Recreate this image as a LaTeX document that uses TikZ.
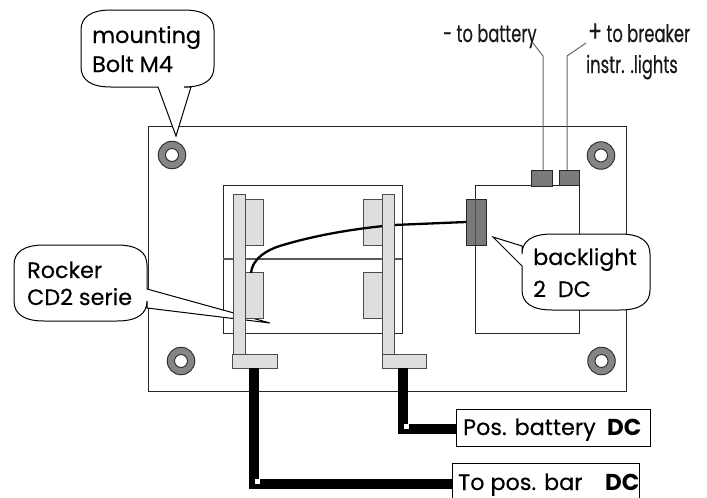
\documentclass[tikz,border=0pt]{standalone}
\usepackage{fontspec}
\setmainfont{Poppins}
\newfontfamily\fut{Poppins}[FakeBold=0.35]
\newfontfamily\futc{Poppins}[FakeStretch=0.68,FakeBold=0.35]
\newcommand\bubble[7]{%
  \filldraw[bubblestyle] (#1+30,#2) -- (#3-30,#2)
   .. controls (#3-10,#2) and (#3,#2+7) .. (#3,#2+20) #5
   -- (#3,#4-20) .. controls (#3,#4-7) and (#3-10,#4) .. (#3-30,#4) #6
   -- (#1+30,#4) .. controls (#1+10,#4) and (#1,#4-7) .. (#1,#4-20) #7
   -- (#1,#2+20) .. controls (#1,#2+7) and (#1+10,#2) .. (#1+30,#2) -- cycle;}
\tikzset{
  x=1pt,y=-1pt,
  bubblestyle/.style={draw=black,fill=white,line width=1pt,line join=miter},
  plate/.style={draw=black!85,line width=1pt,fill=none},
  part/.style={draw=black!70,fill=black!13,line width=1pt,rectangle,inner sep=0pt,outer sep=0pt},
  term/.style={draw=black!85,fill=black!52,line width=1pt,rectangle,inner sep=0pt,outer sep=0pt},
  bolt/.style={draw=black!80,fill=black!48,line width=1pt,circle,inner sep=0pt,minimum size=27.5pt},
  hole/.style={draw=black!80,fill=white,line width=1pt,circle,inner sep=0pt,minimum size=13pt},
  lead/.style={draw=black!60,line width=1pt},
  power/.style={draw=black,line width=10.5pt,line join=miter},
  dot/.style={fill=white,rectangle,inner sep=0pt,minimum size=5pt},
  txt/.style={anchor=base west,inner sep=0pt,font=\fut\fontsize{22.3}{22.3}\selectfont,text=black},
  bold/.style={anchor=base west,inner sep=0pt,font=\bfseries\fontsize{23}{23}\selectfont,text=black},
  cond/.style={anchor=base west,inner sep=0pt,font=\futc\fontsize{24}{24}\selectfont,text=black!90},
  labelbox/.style={draw=black,fill=white,line width=1pt,rectangle,inner sep=0pt,outer sep=0pt},
}
\begin{document}
\begin{tikzpicture}
\useasboundingbox (0,0) rectangle (707,498);
% plate
\draw[plate] (148,126.5) rectangle (626,391.5);
\foreach \n/\cx/\cy in {a/172/155,b/601/155.5,c/181/361,d/601.5/361}{
  \node[bolt] (bolt\n) at (\cx,\cy) {};
  \node[hole] (hole\n) at (\cx,\cy) {};
}
% switch body
\draw[plate] (223,185) rectangle (402,333);
\draw[draw=black!65,line width=1.6pt] (223,259) -- (402,259);
% backlight body
\draw[plate] (475,185) rectangle (579,333);
% rocker callout
\bubble{14}{245}{147}{321}{-- (147,289) -- (270,323) -- (147,308)}{}{}
% paddles
\foreach \n/\cx/\cy in {a/253.5/222,b/253.5/295.5,c/372.5/222,d/372.5/295.5}{
  \node[part,minimum width=19pt,minimum height=46pt] (pad\n) at (\cx,\cy) {};
}
% thin wire
\coordinate (wirestart) at (251,273);
\node[term,minimum width=20pt,minimum height=46pt] (blconn) at (476,222) {};
\draw[black,line width=2.3pt] (wirestart) .. controls (252,260) and (265,250) .. (283,245)
   .. controls (320,234) and (360,228) .. (394,225) -- (blconn.west);
\draw[draw=black!70,line width=1pt] (475,199) -- (475,245);
% bars and feet
\node[part,minimum width=12pt,minimum height=160pt] (barL) at (239,274) {};
\node[part,minimum width=12pt,minimum height=160pt] (barR) at (388,274) {};
\node[part,minimum width=45pt,minimum height=14pt] (footL) at (254.5,361) {};
\node[part,minimum width=44pt,minimum height=14pt] (footR) at (404,361) {};
% label boxes
\coordinate (cornerR) at (403,429);
\coordinate (cornerL) at (254,484);
\node[labelbox,minimum width=194pt,minimum height=37pt] (posbat) at (553,427.5) {};
\node[labelbox,minimum width=187pt,minimum height=38pt] (posbar) at (545.5,482) {};
% power wires
\draw[power] (403,368) -- (cornerR) -- (cornerR -| posbat.west);
\draw[power] (254,368) -- (cornerL) -- (cornerL -| posbar.west);
\node[dot] (dotR) at (406,426.5) {};
\node[dot] (dotL) at (257,481.5) {};
\node[txt] (tposbat) at (463,435) {Pos. battery};
\node[bold] (dcposbat) at (607,435) {DC};
\node[txt] (tposbar) at (458,490) {To pos. bar};
\node[bold] (dcposbar) at (605,490) {DC};
% terminals and leads
\node[term,minimum width=21pt,minimum height=16pt] (tminus) at (541.5,178) {};
\node[term,minimum width=20pt,minimum height=15pt] (tplus) at (569,177.5) {};
\coordinate (leadA) at (543,56);
\coordinate (leadB) at (567,56);
\coordinate (leadAend) at (533,43);
\coordinate (leadBend) at (586,43);
\draw[lead] (leadA |- tminus.north) -- (leadA) -- (leadAend);
\draw[lead] (leadB |- tplus.north) -- (leadB) -- (leadBend);
\node[cond] (tbat) at (443,42) {- to battery};
\node[cond] (tbrk) at (588,42) {{\fontsize{30}{30}\selectfont +} to breaker};
\node[cond] (tinstr) at (586,73) {instr. .lights};
% callouts
\bubble{81}{10}{214}{87}{}{-- (191,87) -- (176,136) -- (158,87)}{}
\bubble{522}{234}{650}{310}{}{}{-- (522,266) -- (493,237) -- (522,246)}
\node[txt] (tm) at (92,43) {mounting};
\node[txt] (tb) at (92,72) {Bolt M4};
\node[txt] (tr) at (27,278) {Rocker};
\node[txt] (tc) at (27,305) {CD2 serie};
\node[txt] (tl) at (533,265) {backlight};
\node[txt] (td) at (533,297) {2 \ DC};
\end{tikzpicture}
\end{document}
